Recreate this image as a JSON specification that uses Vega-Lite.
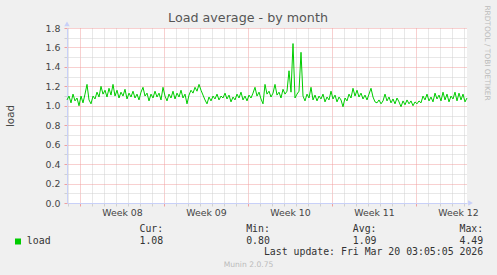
{
  "$schema": "https://vega.github.io/schema/vega-lite/v6.json",
  "width": 400,
  "height": 175,
  "autosize": {"type": "none"},
  "padding": {"left": 67, "top": 28, "right": 30, "bottom": 72},
  "background": "#f0f0f0",
  "title": {"text": "Load average - by month", "font": "DejaVu Sans", "fontSize": 12.7, "fontWeight": "normal", "color": "#555555", "anchor": "middle", "frame": "group", "dx": -19, "dy": 30, "baseline": "alphabetic", "offset": 0},
  "config": {"view": {"fill": "white", "stroke": null}, "font": "DejaVu Sans"},
  "resolve": {"axis": {"x": "independent", "y": "independent"}},
  "layer": [
    {
      "data": {"values": [
        {"h": -26, "v": 1.06}, {"h": -22, "v": 1.10}, {"h": -18, "v": 1.03}, {"h": -14, "v": 1.12}, {"h": -10, "v": 1.05}, {"h": -6, "v": 1.08}, {"h": -2, "v": 1.00}, {"h": 2, "v": 1.10}, {"h": 6, "v": 1.03}, {"h": 10, "v": 1.12},
        {"h": 14, "v": 1.22}, {"h": 18, "v": 1.06}, {"h": 22, "v": 1.02}, {"h": 26, "v": 1.10}, {"h": 30, "v": 1.07}, {"h": 34, "v": 1.14}, {"h": 38, "v": 1.09}, {"h": 42, "v": 1.20}, {"h": 46, "v": 1.12}, {"h": 50, "v": 1.16},
        {"h": 54, "v": 1.09}, {"h": 58, "v": 1.18}, {"h": 62, "v": 1.11}, {"h": 66, "v": 1.22}, {"h": 70, "v": 1.10}, {"h": 74, "v": 1.16}, {"h": 78, "v": 1.08}, {"h": 82, "v": 1.14}, {"h": 86, "v": 1.10}, {"h": 90, "v": 1.17},
        {"h": 94, "v": 1.07}, {"h": 98, "v": 1.13}, {"h": 102, "v": 1.09}, {"h": 106, "v": 1.15}, {"h": 110, "v": 1.08}, {"h": 114, "v": 1.12}, {"h": 118, "v": 1.06}, {"h": 122, "v": 1.14}, {"h": 126, "v": 1.19}, {"h": 130, "v": 1.10},
        {"h": 134, "v": 1.13}, {"h": 138, "v": 1.05}, {"h": 142, "v": 1.12}, {"h": 146, "v": 1.08}, {"h": 150, "v": 1.15}, {"h": 154, "v": 1.09}, {"h": 158, "v": 1.13}, {"h": 162, "v": 1.06}, {"h": 166, "v": 1.19}, {"h": 170, "v": 1.10},
        {"h": 174, "v": 1.05}, {"h": 178, "v": 1.12}, {"h": 182, "v": 1.08}, {"h": 186, "v": 1.15}, {"h": 190, "v": 1.07}, {"h": 194, "v": 1.13}, {"h": 198, "v": 1.09}, {"h": 202, "v": 1.16}, {"h": 206, "v": 1.08}, {"h": 210, "v": 1.12},
        {"h": 214, "v": 1.02}, {"h": 218, "v": 1.11}, {"h": 222, "v": 1.16}, {"h": 226, "v": 1.13}, {"h": 230, "v": 1.19}, {"h": 234, "v": 1.15}, {"h": 238, "v": 1.22}, {"h": 242, "v": 1.16}, {"h": 246, "v": 1.11}, {"h": 250, "v": 1.06},
        {"h": 254, "v": 1.02}, {"h": 258, "v": 1.09}, {"h": 262, "v": 1.05}, {"h": 266, "v": 1.10}, {"h": 270, "v": 1.07}, {"h": 274, "v": 1.12}, {"h": 278, "v": 1.06}, {"h": 282, "v": 1.10}, {"h": 286, "v": 1.08}, {"h": 290, "v": 1.13},
        {"h": 294, "v": 1.07}, {"h": 298, "v": 1.11}, {"h": 302, "v": 1.04}, {"h": 306, "v": 1.09}, {"h": 310, "v": 1.06}, {"h": 314, "v": 1.12}, {"h": 318, "v": 1.08}, {"h": 322, "v": 1.14}, {"h": 326, "v": 1.06}, {"h": 330, "v": 1.10},
        {"h": 334, "v": 1.05}, {"h": 338, "v": 1.11}, {"h": 342, "v": 1.08}, {"h": 346, "v": 1.13}, {"h": 350, "v": 1.19}, {"h": 354, "v": 1.10}, {"h": 358, "v": 1.14}, {"h": 362, "v": 1.07}, {"h": 366, "v": 1.02}, {"h": 370, "v": 1.22},
        {"h": 374, "v": 1.12}, {"h": 378, "v": 1.15}, {"h": 382, "v": 1.09}, {"h": 386, "v": 1.13}, {"h": 390, "v": 1.22}, {"h": 394, "v": 1.11}, {"h": 398, "v": 1.14}, {"h": 402, "v": 1.08}, {"h": 406, "v": 1.17}, {"h": 410, "v": 1.12},
        {"h": 414, "v": 1.15}, {"h": 418, "v": 1.36}, {"h": 422, "v": 1.14}, {"h": 426, "v": 1.64}, {"h": 430, "v": 1.08}, {"h": 434, "v": 1.12}, {"h": 438, "v": 1.15}, {"h": 442, "v": 1.55}, {"h": 446, "v": 1.10}, {"h": 450, "v": 1.05},
        {"h": 454, "v": 1.12}, {"h": 458, "v": 1.08}, {"h": 462, "v": 1.19}, {"h": 466, "v": 1.06}, {"h": 470, "v": 1.11}, {"h": 474, "v": 1.05}, {"h": 478, "v": 1.10}, {"h": 482, "v": 1.07}, {"h": 486, "v": 1.12}, {"h": 490, "v": 1.04},
        {"h": 494, "v": 1.09}, {"h": 498, "v": 1.06}, {"h": 502, "v": 1.15}, {"h": 506, "v": 1.07}, {"h": 510, "v": 1.11}, {"h": 514, "v": 1.04}, {"h": 518, "v": 1.09}, {"h": 522, "v": 1.06}, {"h": 526, "v": 0.99}, {"h": 530, "v": 1.08},
        {"h": 534, "v": 1.05}, {"h": 538, "v": 1.12}, {"h": 542, "v": 1.08}, {"h": 546, "v": 1.18}, {"h": 550, "v": 1.10}, {"h": 554, "v": 1.16}, {"h": 558, "v": 1.09}, {"h": 562, "v": 1.13}, {"h": 566, "v": 1.07}, {"h": 570, "v": 1.11},
        {"h": 574, "v": 1.06}, {"h": 578, "v": 1.12}, {"h": 582, "v": 1.18}, {"h": 586, "v": 1.09}, {"h": 590, "v": 1.04}, {"h": 594, "v": 1.03}, {"h": 598, "v": 1.06}, {"h": 602, "v": 1.02}, {"h": 606, "v": 1.05}, {"h": 610, "v": 1.12},
        {"h": 614, "v": 1.05}, {"h": 618, "v": 1.09}, {"h": 622, "v": 1.03}, {"h": 626, "v": 1.07}, {"h": 630, "v": 1.02}, {"h": 634, "v": 1.08}, {"h": 638, "v": 1.04}, {"h": 642, "v": 0.99}, {"h": 646, "v": 1.05}, {"h": 650, "v": 1.01},
        {"h": 654, "v": 1.06}, {"h": 658, "v": 1.02}, {"h": 662, "v": 1.05}, {"h": 666, "v": 1.00}, {"h": 670, "v": 1.04}, {"h": 674, "v": 1.02}, {"h": 678, "v": 1.05}, {"h": 682, "v": 1.03}, {"h": 686, "v": 1.10}, {"h": 690, "v": 1.06},
        {"h": 694, "v": 1.12}, {"h": 698, "v": 1.05}, {"h": 702, "v": 1.09}, {"h": 706, "v": 1.04}, {"h": 710, "v": 1.13}, {"h": 714, "v": 1.07}, {"h": 718, "v": 1.11}, {"h": 722, "v": 1.05}, {"h": 726, "v": 1.14}, {"h": 730, "v": 1.06},
        {"h": 734, "v": 1.12}, {"h": 738, "v": 1.04}, {"h": 742, "v": 1.10}, {"h": 746, "v": 1.07}, {"h": 750, "v": 1.14}, {"h": 754, "v": 1.05}, {"h": 758, "v": 1.13}, {"h": 762, "v": 1.06}, {"h": 766, "v": 1.12}, {"h": 770, "v": 1.04},
        {"h": 774, "v": 1.08}
      ]},
      "mark": {"type": "line", "strokeWidth": 1},
      "encoding": {
        "x": {
          "field": "h", "type": "quantitative",
          "scale": {"domain": [-26, 774], "nice": false, "zero": false},
          "axis": {
            "values": [-24, 0, 24, 48, 72, 84, 96, 120, 144, 168, 192, 216, 240, 252, 264, 288, 312, 336, 360, 384, 408, 420, 432, 456, 480, 504, 528, 552, 576, 588, 600, 624, 648, 672, 696, 720, 744, 756, 768],
            "grid": true,
            "gridColor": {"condition": {"test": "datum.value % 168 === 0", "value": "#f0a0a0"}, "value": "#d0d0d0"},
            "gridOpacity": {"condition": {"test": "datum.value % 24 !== 0", "value": 0}, "value": 1},
            "gridDash": [1, 1],
            "tickColor": {"condition": {"test": "datum.value % 168 === 0", "value": "#f0a0a0"}, "value": "#d0d0d0"},
            "tickOpacity": {"condition": {"test": "datum.value % 24 !== 0", "value": 0}, "value": 1},
            "tickSize": 3,
            "labelExpr": "datum.value % 168 === 84 ? 'Week ' + format(8 + floor(datum.value / 168), '02d') : ''",
            "labelFont": "DejaVu Sans", "labelFontSize": 9.4, "labelColor": "#444444", "labelPadding": 2,
            "labelOverlap": false, "labelBound": false, "labelFlush": false,
            "domainColor": "#c8d0f8",
            "title": [
              "Cur:\u00a0\u00a0\u00a0\u00a0\u00a0\u00a0\u00a0\u00a0\u00a0\u00a0\u00a0\u00a0\u00a0\u00a0Min:\u00a0\u00a0\u00a0\u00a0\u00a0\u00a0\u00a0\u00a0\u00a0\u00a0\u00a0\u00a0\u00a0\u00a0Avg:\u00a0\u00a0\u00a0\u00a0\u00a0\u00a0\u00a0\u00a0\u00a0\u00a0\u00a0\u00a0\u00a0\u00a0Max:\u00a0\u00a0",
              "load\u00a0\u00a0\u00a0\u00a0\u00a0\u00a0\u00a0\u00a0\u00a0\u00a0\u00a0\u00a0\u00a0\u00a0\u00a01.08\u00a0\u00a0\u00a0\u00a0\u00a0\u00a0\u00a0\u00a0\u00a0\u00a0\u00a0\u00a0\u00a0\u00a00.80\u00a0\u00a0\u00a0\u00a0\u00a0\u00a0\u00a0\u00a0\u00a0\u00a0\u00a0\u00a0\u00a0\u00a01.09\u00a0\u00a0\u00a0\u00a0\u00a0\u00a0\u00a0\u00a0\u00a0\u00a0\u00a0\u00a0\u00a0\u00a04.49",
              "Last update: Fri Mar 20 03:05:05 2026"
            ],
            "titleFont": "DejaVu Sans Mono", "titleFontSize": 9.85, "titleFontWeight": "normal", "titleColor": "#333333",
            "titleAlign": "right", "titleBaseline": "alphabetic", "titleX": 415.7, "titleY": 28.6, "titleLineHeight": 11.7
          }
        },
        "y": {
          "field": "v", "type": "quantitative",
          "scale": {"domain": [0, 1.8], "nice": false, "zero": true},
          "axis": {
            "values": [0, 0.1, 0.2, 0.3, 0.4, 0.5, 0.6, 0.7, 0.8, 0.9, 1.0, 1.1, 1.2, 1.3, 1.4, 1.5, 1.6, 1.7, 1.8],
            "grid": true,
            "gridColor": {"condition": {"test": "round(datum.value * 10) % 2 === 0", "value": "#f0a0a0"}, "value": "#d0d0d0"},
            "gridDash": [1, 1],
            "tickColor": {"condition": {"test": "round(datum.value * 10) % 2 === 0", "value": "#f0a0a0"}, "value": "#d0d0d0"},
            "tickSize": 3,
            "labelExpr": "round(datum.value * 10) % 2 === 0 ? format(datum.value, '.1f') : ''",
            "labelFont": "DejaVu Sans", "labelFontSize": 9.4, "labelColor": "#444444", "labelPadding": 4,
            "labelOverlap": false, "labelBound": false, "labelFlush": false,
            "domainColor": "#c8d0f8",
            "title": "load",
            "titleFont": "DejaVu Sans", "titleFontSize": 10.3, "titleFontWeight": "normal", "titleColor": "#444444",
            "titleAngle": -90, "titleX": -57, "titleY": 87.5, "titleAlign": "center", "titleBaseline": "middle"
          }
        },
        "color": {
          "datum": "load",
          "type": "nominal",
          "scale": {"domain": ["load"], "range": ["#00cc00"]},
          "legend": {
            "orient": "none", "legendX": -54, "legendY": 208.5,
            "title": null, "symbolType": "square", "symbolSize": 36,
            "symbolFillColor": "#00cc00", "symbolStrokeColor": "#00cc00", "symbolStrokeWidth": 0,
            "labelExpr": "''", "padding": 0
          }
        }
      }
    },
    {
      "data": {"values": [{}]},
      "mark": {"type": "point", "opacity": 0},
      "encoding": {
        "x": {"datum": 0, "type": "quantitative", "axis": {"orient": "bottom", "labels": false, "ticks": false, "domain": false, "grid": false, "title": "Munin 2.0.75", "titleFont": "DejaVu Sans", "titleFontSize": 7.6, "titleFontWeight": "normal", "titleColor": "#bbbbbb", "titleX": 181, "titleY": 63.8, "titleAlign": "center", "titleBaseline": "alphabetic"}},
        "y": {"datum": 0, "type": "quantitative", "axis": {"orient": "right", "labels": false, "ticks": false, "domain": false, "grid": false, "title": "RRDTOOL / TOBI OETIKER", "titleFont": "DejaVu Sans", "titleFontSize": 7.4, "titleFontWeight": "normal", "titleColor": "#bbbbbb", "titleAngle": 90, "titleX": 19.7, "titleY": 24.5, "titleAlign": "center", "titleBaseline": "middle"}}
      }
    },
    {
      "data": {"values": [{}]},
      "mark": {"type": "point", "filled": true, "shape": "triangle-up", "size": 30, "color": "#c8d0f8", "opacity": 1},
      "encoding": {
        "x": {"datum": -26, "type": "quantitative", "axis": null},
        "y": {"datum": 1.842, "type": "quantitative", "axis": null}
      }
    },
    {
      "data": {"values": [{}]},
      "mark": {"type": "point", "filled": true, "shape": "triangle-right", "size": 30, "color": "#c8d0f8", "opacity": 1},
      "encoding": {
        "x": {"datum": 781, "type": "quantitative", "axis": null},
        "y": {"datum": 0, "type": "quantitative", "axis": null}
      }
    }
  ]
}
